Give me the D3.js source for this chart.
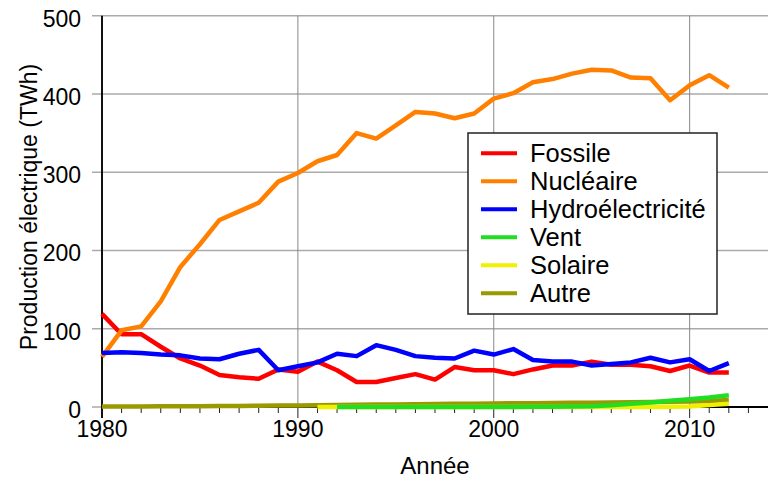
<!DOCTYPE html>
<html><head><meta charset="utf-8">
<script src="https://cdn.jsdelivr.net/npm/d3@7"></script>
<style>
html,body{margin:0;padding:0;background:#fff;}
svg{display:block;font-family:"Liberation Sans",Arial,sans-serif;}
</style></head>
<body>
<svg id="chart" width="774" height="481"></svg>
<script>
const years = d3.range(1980, 2013);
const fossile = [119,93,93,77,62,53,41,38,36,48,45,58,47,32,32,37,42,35,51,47,47,42,48,53,53,58,54,54,52,46,53,44,44];
const nucleaire = [64,98,103,135,179,208,239,250,261,288,299,314,322,350,343,360,377,375,369,375,394,401,415,419,426,431,430,421,420,392,411,424,408];
const hydro = [69,70,69,67,66,62,61,68,73,47,52,57,68,65,79,73,65,63,62,72,67,74,60,58,58,53,55,57,63,57,61,46,56];
const ventYears = d3.range(1992, 2013);
const vent = [0,0,0,0,0,0,0,0,0.1,0.1,0.3,0.4,0.6,1,2.2,4.1,5.7,7.9,9.9,12.1,14.9];
const solaireYears = d3.range(1991, 2013);
const solaire = [0,0,0,0,0,0,0,0,0,0,0,0,0,0,0,0,0,0.04,0.2,0.6,2.4,4.0];
const autre = [0.5,0.6,0.7,0.8,1,1.1,1.2,1.4,1.6,1.8,2,2.3,2.6,2.9,3.1,3.3,3.5,3.7,4,4.2,4.5,4.7,4.9,5.1,5.3,5.5,5.8,6,6.3,6.6,7,7.8,8.8];
const yTicks = [0,100,200,300,400,500];
const xMajor = [1980,1990,2000,2010];
const seriesNames = ["Fossile","Nucléaire","Hydroélectricité","Vent","Solaire","Autre"];
const seriesColors = ["#ff0000","#ff8000","#0000ff","#22dd22","#f0f000","#999900"];

const svg = d3.select("#chart");
const x = d3.scaleLinear().domain([1980, 2014]).range([102, 768]);
const y = d3.scaleLinear().domain([0, 500]).range([407, 15.7]);

// horizontal grid + y ticks
svg.append("g").selectAll("line").data(yTicks).join("line")
  .attr("x1", 92).attr("x2", 768)
  .attr("y1", d => y(d)).attr("y2", d => y(d))
  .attr("stroke", "#aaaaaa").attr("stroke-width", 1.5);
// vertical grid
svg.append("g").selectAll("line").data(xMajor.slice(1)).join("line")
  .attr("x1", d => x(d)).attr("x2", d => x(d))
  .attr("y1", y(500)).attr("y2", y(0))
  .attr("stroke", "#888888").attr("stroke-width", 1);

// x ticks
svg.append("g").selectAll("line").data(d3.range(1980, 2014)).join("line")
  .attr("x1", d => x(d)).attr("x2", d => x(d))
  .attr("y1", y(0)).attr("y2", d => y(0) + (d % 10 === 0 ? 11 : 6))
  .attr("stroke", "#222").attr("stroke-width", 1);

// axes lines
svg.append("line").attr("x1", x(1980)).attr("x2", x(2014)).attr("y1", y(0)).attr("y2", y(0))
  .attr("stroke", "#000").attr("stroke-width", 2);
svg.append("line").attr("x1", x(1980)).attr("x2", x(1980)).attr("y1", y(500)).attr("y2", y(0) + 11)
  .attr("stroke", "#111").attr("stroke-width", 2);

// tick labels
svg.append("g").selectAll("text").data(yTicks).join("text")
  .attr("x", 81).attr("y", d => y(d) + 11)
  .attr("text-anchor", "end").attr("font-size", 23).attr("fill", "#000")
  .text(d => d);
svg.append("g").selectAll("text").data(xMajor).join("text")
  .attr("x", d => x(d)).attr("y", 437)
  .attr("text-anchor", "middle").attr("font-size", 23).attr("fill", "#000")
  .text(d => d);

// axis titles
svg.append("text").attr("x", 435).attr("y", 474).attr("text-anchor", "middle")
  .attr("font-size", 24).text("Année");
svg.append("text").attr("transform", "translate(37,207) rotate(-90)")
  .attr("text-anchor", "middle").attr("font-size", 23).text("Production électrique (TWh)");

// lines
const line = d3.line().x(d => x(d[0])).y(d => y(d[1]));
const pairs = (xs, vs) => xs.map((yr, i) => [yr, vs[i]]);
const drawOrder = [
  [pairs(years, fossile), seriesColors[0]],
  [pairs(years, nucleaire), seriesColors[1]],
  [pairs(years, hydro), seriesColors[2]],
  [pairs(years, autre), seriesColors[5]],
  [pairs(solaireYears, solaire), seriesColors[4]],
  [pairs(ventYears, vent), seriesColors[3]]
];
svg.append("g").selectAll("path").data(drawOrder).join("path")
  .attr("d", d => line(d[0]))
  .attr("fill", "none").attr("stroke", d => d[1])
  .attr("stroke-width", 4.5).attr("stroke-linejoin", "round");

// legend
const lg = svg.append("g");
lg.append("rect").attr("x", 468).attr("y", 133).attr("width", 249).attr("height", 181)
  .attr("fill", "#fff").attr("stroke", "#222").attr("stroke-width", 1.5);
const rows = lg.selectAll("g").data(seriesNames).join("g")
  .attr("transform", (d, i) => `translate(0,${153.3 + i * 28})`);
rows.append("line").attr("x1", 481).attr("x2", 517).attr("y1", 0).attr("y2", 0)
  .attr("stroke", (d, i) => seriesColors[i]).attr("stroke-width", 4);
rows.append("text").attr("x", 530).attr("y", 8.5).attr("font-size", 25.5).text(d => d);
</script>
</body></html>
